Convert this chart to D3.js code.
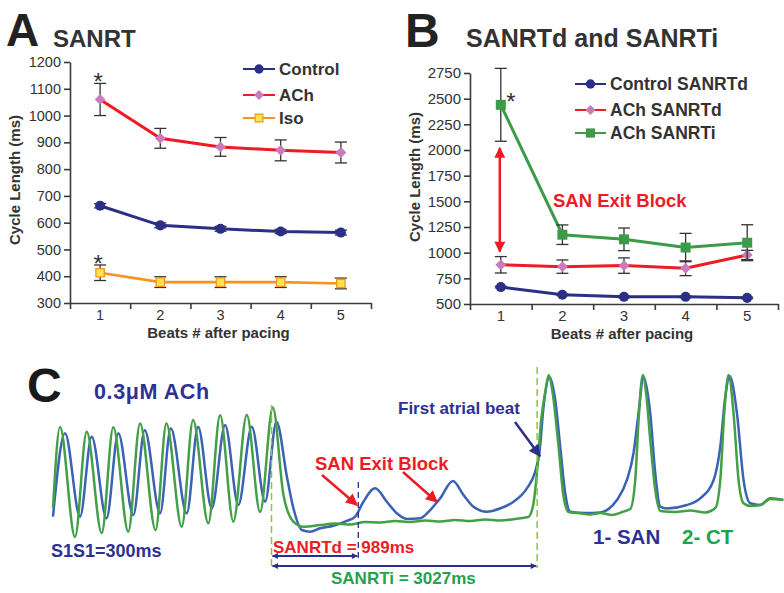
<!DOCTYPE html>
<html><head><meta charset="utf-8">
<script src="https://cdn.jsdelivr.net/npm/d3@7"></script>
<style>body{margin:0;background:#fff}svg{display:block}</style>
</head><body><svg id="c" width="784" height="593"></svg>
<script>
// ---------- DATA ----------
const beats = [1, 2, 3, 4, 5];
const ticksA = [300, 400, 500, 600, 700, 800, 900, 1000, 1100, 1200];
const controlA = [663, 590, 577, 567, 563];
const controlAErr = [8, 9, 9, 8, 9];
const achA = [1060, 915, 883, 870, 862];
const achAErr = [60, 37, 35, 39, 39];
const isoA = [413, 378, 378, 378, 373];
const isoAErr = [29, 20, 20, 20, 20];

const ticksB = [500, 750, 1000, 1250, 1500, 1750, 2000, 2250, 2500, 2750];
const controlB = [665, 590, 570, 570, 560];
const controlBErr = [8, 8, 8, 8, 8];
const achdB = [882, 864, 874, 848, 978];
const achdBErr = [80, 65, 75, 72, 45];
const achiB = [2440, 1175, 1130, 1050, 1097];
const achiBErr = [355, 95, 110, 138, 175];

// optical traces (time in ms, amplitude in a.u.)
const sanTime = [0,137,308,441,610,744,915,1045,1220,1342,1524,1653,1809,1961,2112,2265,2417,2546,2668,2739,2835,2930,3044,3195,3348,3443,3537,3671,3804,3918,4032,4184,4298,4412,4557,4678,4792,4944,5096,5248,5400,5495,5544,5590,5658,5723,5780,5837,5894,6065,6236,6312,6426,6540,6615,6672,6729,6806,6863,6920,6996,7224,7376,7528,7604,7661,7710,7794,7869,7946,8060,8174,8322];
const sanAmp = [13.7,62.8,13.7,60.8,12.8,62.8,14.7,64.7,15.7,65.7,15.7,66.6,18.6,67.6,20.6,66.6,22.5,69.6,36.5,18.8,5.9,4.9,6.9,8.4,11.2,13.7,22.5,30.4,22.5,15.7,12.4,12.8,17.6,24.5,34.7,26.5,19.6,16.6,18.6,22.5,30.4,40.2,51.9,78.4,95.9,82.4,54.9,27.5,16.6,15.9,16.2,17.6,23.5,35.3,51,74.5,95.9,74.5,39.2,19.6,18.6,20.6,24.5,35.3,54.9,84.3,96.5,74.5,35.3,21.6,20.6,24.5,23.5];
const ctTime = [0,80,251,384,555,687,858,992,1169,1292,1467,1596,1770,1904,2055,2208,2360,2505,2626,2740,2853,3044,3215,3386,3557,3728,3899,4070,4241,4412,4583,4754,4925,5096,5267,5415,5472,5518,5563,5609,5649,5689,5761,5818,5875,5985,6122,6236,6373,6487,6578,6635,6673,6721,6761,6806,6863,6920,7090,7261,7433,7547,7604,7649,7698,7755,7812,7869,7946,8060,8174,8322];
const ctAmp = [18.8,66.5,1.8,63.7,4.1,66.3,4.9,68.6,5.9,68.6,7.8,70.6,9.8,73.4,10.8,73.5,16.5,77.9,26.5,10.8,7.8,8.8,9.7,9.1,10.6,10.3,11.2,10.6,11.5,10.9,11.8,11.2,12.1,11.5,12.4,13.5,20.6,41.2,70.6,87,97.1,88.2,54.9,25.5,16.5,15.9,15,15.9,14.7,16.5,18.2,35.3,70.6,97.1,85.3,58.8,29.4,17.1,16.5,17.4,16.2,18.8,35.3,74.5,97.1,74.5,35.3,21.6,20,20.6,24.1,23.5];
const pacingEnd = 2490;   // ms, last paced beat
const sanrtd = 989;       // ms
const sanrti = 3027;      // ms

// ---------- STYLE ----------
const FONT = '"Liberation Sans", Arial, Helvetica, sans-serif';
const NAVY = "#2b2f86", RED = "#ed1c24", PINK = "#c97bbb", ORANGE = "#f7941d",
      YELLOW = "#ffe34f", GREEN = "#3c9b48", GRAY = "#3a3a3a",
      TRACE_BLUE = "#3b62b3", TRACE_GREEN = "#43a047", TXT_GREEN = "#22a24b", DASH_GREEN = "#8cc63f";

const svg = d3.select("#c").attr("font-family", FONT);

const defs = svg.append("defs");
function marker(id, color, w, h, orient) {
  defs.append("marker").attr("id", id).attr("viewBox", "0 0 10 10")
    .attr("refX", 9).attr("refY", 5).attr("markerUnits", "userSpaceOnUse")
    .attr("markerWidth", w).attr("markerHeight", h).attr("orient", orient)
    .append("path").attr("d", "M0,0L10,5L0,10Z").attr("fill", color);
}
marker("arRed", RED, 13, 12, "auto");
marker("arRedBoth", RED, 12, 11, "auto-start-reverse");
marker("arNavy", NAVY, 13, 12, "auto");
marker("arSmall", NAVY, 7, 6, "auto-start-reverse");

function txt(x, y, s, size, color, opts = {}) {
  return svg.append("text").attr("x", x).attr("y", y).text(s)
    .attr("font-size", size).attr("font-weight", opts.weight || "bold")
    .attr("fill", color).attr("text-anchor", opts.anchor || "start");
}

function symbolPath(type, size) {
  return d3.symbol().type(type).size(size)();
}

function panel(o) {
  const x = d3.scaleLinear().domain([0.5, 5.5]).range([o.x0, o.x1]);
  const y = d3.scaleLinear().domain(o.yDom).range([o.yBot, o.yTop]);
  const g = svg.append("g");
  const ya = g.append("g").attr("transform", `translate(${o.x0},0)`)
    .call(d3.axisLeft(y).tickValues(o.ticks).tickFormat(d3.format("d")).tickSize(6).tickSizeOuter(0).tickPadding(3));
  const xa = g.append("g").attr("transform", `translate(0,${o.yBot})`)
    .call(d3.axisBottom(x).tickValues([0.5, 1.5, 2.5, 3.5, 4.5, 5.5]).tickSize(6).tickSizeOuter(0).tickFormat(""));
  [ya, xa].forEach(a => {
    a.selectAll("path,line").attr("stroke", GRAY).attr("stroke-width", 1.6);
    a.selectAll("text").attr("fill", "#333").attr("font-size", o.tickFs).attr("font-family", FONT);
  });
  g.selectAll(null).data(beats).enter().append("text")
    .attr("x", d => x(d)).attr("y", o.yBot + 17).attr("text-anchor", "middle")
    .attr("font-size", o.tickFs).attr("fill", "#333").text(d => d);
  g.append("text").attr("x", (o.x0 + o.x1) / 2 - 2).attr("y", o.yBot + 35)
    .attr("text-anchor", "middle").attr("font-size", 15).attr("font-weight", "bold")
    .attr("fill", "#333").text("Beats # after pacing");
  g.append("text").attr("transform", `translate(${o.ytx},${o.yty}) rotate(-90)`)
    .attr("text-anchor", "middle").attr("font-size", 15).attr("font-weight", "bold")
    .attr("fill", "#333").text("Cycle Length (ms)");

  o.series.forEach(s => {
    const pts = beats.map((b, i) => ({ b, v: s.vals[i], e: s.err[i] }));
    g.append("path").datum(pts)
      .attr("d", d3.line().x(d => x(d.b)).y(d => y(d.v)))
      .attr("fill", "none").attr("stroke", s.color).attr("stroke-width", s.lw);
    const eb = g.append("g").attr("stroke", "#333").attr("stroke-width", 1.3);
    pts.forEach(d => {
      if (!d.e) return;
      const cx = x(d.b);
      eb.append("line").attr("x1", cx).attr("x2", cx).attr("y1", y(d.v - d.e)).attr("y2", y(d.v + d.e));
      [d.v - d.e, d.v + d.e].forEach(v => eb.append("line")
        .attr("x1", cx - 6).attr("x2", cx + 6).attr("y1", y(v)).attr("y2", y(v)));
    });
    g.selectAll(null).data(pts).enter().append("path")
      .attr("d", symbolPath(s.sym, s.size))
      .attr("transform", d => `translate(${x(d.b)},${y(d.v)})${s.rot ? " rotate(45)" : ""}`)
      .attr("fill", s.fill).attr("stroke", s.stroke || "none").attr("stroke-width", 1.3);
  });

  // legend
  o.series.forEach((s, i) => {
    const ly = o.legY[i];
    g.append("line").attr("x1", o.legX0).attr("x2", o.legX1).attr("y1", ly).attr("y2", ly)
      .attr("stroke", s.color).attr("stroke-width", 2);
    g.append("path").attr("d", symbolPath(s.sym, s.size * 0.85))
      .attr("transform", `translate(${(o.legX0 + o.legX1) / 2},${ly})${s.rot ? " rotate(45)" : ""}`)
      .attr("fill", s.fill).attr("stroke", s.stroke || "none").attr("stroke-width", 1.2);
    g.append("text").attr("x", o.legX1 + 4).attr("y", ly).attr("dy", "0.36em")
      .attr("font-size", o.legFs).attr("font-weight", "bold").attr("fill", "#333").text(s.name);
  });
  return { x, y, g };
}

// ---------- PANEL A ----------
txt(6, 46, "A", 46, "#222");
txt(53, 47, "SANRT", 24, "#333");
const A = panel({
  x0: 70, x1: 371, yTop: 62, yBot: 303, yDom: [300, 1200], ticks: ticksA, tickFs: 14.5,
  ytx: 20, yty: 180,
  legX0: 243, legX1: 275, legY: [69, 95, 118], legFs: 17,
  series: [
    { name: "Control", vals: controlA, err: controlAErr, color: NAVY, lw: 3, sym: d3.symbolCircle, size: 80, fill: NAVY },
    { name: "ACh", vals: achA, err: achAErr, color: RED, lw: 3, sym: d3.symbolSquare, size: 58, fill: PINK, rot: true },
    { name: "Iso", vals: isoA, err: isoAErr, color: ORANGE, lw: 2.6, sym: d3.symbolSquare, size: 70, fill: YELLOW, stroke: ORANGE }
  ]
});
A.g.append("text").attr("x", A.x(1) - 2).attr("y", A.y(achA[0] + achAErr[0]) + 7).attr("text-anchor", "middle")
  .attr("font-size", 24).attr("fill", "#333").text("*");
A.g.append("text").attr("x", A.x(1) - 2).attr("y", A.y(isoA[0] + isoAErr[0]) + 7).attr("text-anchor", "middle")
  .attr("font-size", 24).attr("fill", "#333").text("*");

// ---------- PANEL B ----------
txt(405, 47, "B", 48, "#222");
txt(466, 47, "SANRTd and SANRTi", 25, "#333");
const B = panel({
  x0: 470, x1: 778, yTop: 73, yBot: 304, yDom: [500, 2750], ticks: ticksB, tickFs: 15,
  ytx: 420, yty: 177,
  legX0: 575, legX1: 606, legY: [84, 110, 133], legFs: 17.5,
  series: [
    { name: "Control SANRTd", vals: controlB, err: controlBErr, color: NAVY, lw: 3, sym: d3.symbolCircle, size: 80, fill: NAVY },
    { name: "ACh SANRTd", vals: achdB, err: achdBErr, color: RED, lw: 3, sym: d3.symbolSquare, size: 58, fill: PINK, rot: true },
    { name: "ACh SANRTi", vals: achiB, err: achiBErr, color: GREEN, lw: 3, sym: d3.symbolSquare, size: 100, fill: GREEN }
  ]
});
B.g.append("text").attr("x", B.x(1) + 10).attr("y", B.y(achiB[0]) + 5).attr("text-anchor", "middle")
  .attr("font-size", 24).attr("fill", "#333").text("*");
B.g.append("line").attr("x1", B.x(1) - 1).attr("x2", B.x(1) - 1)
  .attr("y1", B.y(1010)).attr("y2", B.y(2020))
  .attr("stroke", RED).attr("stroke-width", 2.5)
  .attr("marker-start", "url(#arRedBoth)").attr("marker-end", "url(#arRedBoth)");
txt(553, 207, "SAN Exit Block", 18.5, RED);

// ---------- PANEL C ----------
const xT = d3.scaleLinear().domain([0, 8330]).range([53, 784]);
const yA = d3.scaleLinear().domain([0, 100]).range([540, 370]);
txt(27, 402, "C", 48, "#1a1a1a");
txt(94, 399, "0.3μM ACh", 21.5, "#2e3192").attr("letter-spacing", 0.6);

const traceLine = d3.line().x(d => xT(d[0])).y(d => yA(d[1])).curve(d3.curveMonotoneX);
svg.append("path").datum(sanTime.map((t, i) => [t, sanAmp[i]])).attr("d", traceLine)
  .attr("fill", "none").attr("stroke", TRACE_BLUE).attr("stroke-width", 2.5);
svg.append("path").datum(ctTime.map((t, i) => [t, ctAmp[i]])).attr("d", traceLine)
  .attr("fill", "none").attr("stroke", TRACE_GREEN).attr("stroke-width", 2.5);

// event lines
[[pacingEnd, 405], [pacingEnd + sanrti, 367]].forEach(([t, top]) =>
  svg.append("line").attr("x1", xT(t)).attr("x2", xT(t)).attr("y1", top).attr("y2", 568)
    .attr("stroke", DASH_GREEN).attr("stroke-width", 1.5).attr("stroke-dasharray", "7,4"));
svg.append("line").attr("x1", xT(pacingEnd + sanrtd)).attr("x2", xT(pacingEnd + sanrtd))
  .attr("y1", 482).attr("y2", 558).attr("stroke", NAVY).attr("stroke-width", 1.3).attr("stroke-dasharray", "6,4");

// dimension arrows
[[sanrtd, 556], [sanrti, 566]].forEach(([d, yy]) =>
  svg.append("line").attr("x1", xT(pacingEnd) + 1).attr("x2", xT(pacingEnd + d) - 1)
    .attr("y1", yy).attr("y2", yy).attr("stroke", NAVY).attr("stroke-width", 2)
    .attr("marker-start", "url(#arSmall)").attr("marker-end", "url(#arSmall)"));

txt(51, 557, "S1S1=300ms", 18, "#2e3192");
txt(273, 553, "SANRTd = 989ms", 17, RED);
txt(331, 584, "SANRTi = 3027ms", 17, TXT_GREEN);

txt(315, 470, "SAN Exit Block", 18.5, RED);
svg.append("line").attr("x1", 322).attr("y1", 475).attr("x2", 357).attr("y2", 505)
  .attr("stroke", RED).attr("stroke-width", 2.5).attr("marker-end", "url(#arRed)");
svg.append("line").attr("x1", 403).attr("y1", 472).attr("x2", 437).attr("y2", 502)
  .attr("stroke", RED).attr("stroke-width", 2.5).attr("marker-end", "url(#arRed)");

txt(398, 414, "First atrial beat", 17, "#2e3192");
svg.append("line").attr("x1", 515).attr("y1", 422).attr("x2", 540).attr("y2", 456)
  .attr("stroke", NAVY).attr("stroke-width", 2.5).attr("marker-end", "url(#arNavy)");

txt(593, 544, "1- SAN", 20.5, "#2e3192");
txt(682, 544, "2- CT", 20.5, TXT_GREEN);
</script></body></html>
